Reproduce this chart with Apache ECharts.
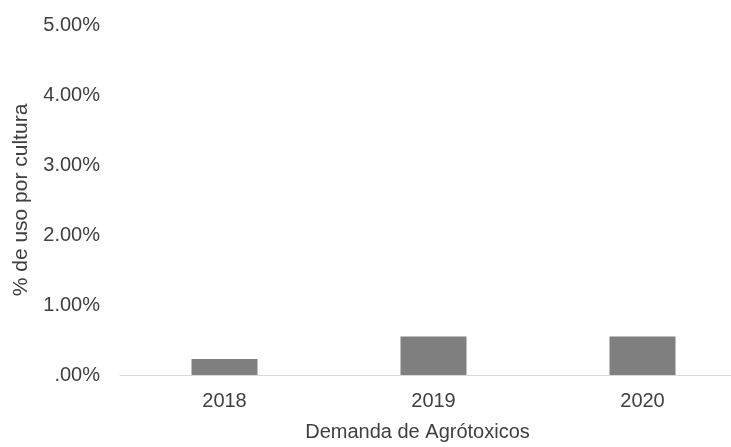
<!DOCTYPE html>
<html>
<head>
<meta charset="utf-8">
<script src="https://cdn.jsdelivr.net/npm/echarts@6/dist/echarts.min.js"></script>
<style>
  html, body { margin: 0; padding: 0; background: #fff; }
  #chart { width: 731px; height: 447px; }
</style>
</head>
<body>
<div id="chart"></div>
<script>
// values, in percent
const years = ['2018', '2019', '2020'];
const usoPorCultura = [0.23, 0.55, 0.55];

const chart = echarts.init(document.getElementById('chart'));
const txt = '#404040';
const font = 'Liberation Sans, Arial, sans-serif';

const option = {
  animation: false,
  grid: { left: 120, top: 25, bottom: 72, width: 627, outerBoundsMode: 'none', containLabel: false },
  xAxis: {
    type: 'category',
    data: years,
    name: 'Demanda de Agrótoxicos',
    nameLocation: 'middle',
    nameGap: 47,
    nameTextStyle: { color: txt, fontSize: 20, fontFamily: font, padding: [0, 32, 0, 0] },
    axisLine: { lineStyle: { color: '#d9d9d9', width: 1 } },
    axisTick: { show: false },
    axisLabel: { color: txt, fontSize: 20, fontFamily: font, margin: 16 }
  },
  yAxis: {
    type: 'value',
    min: 0,
    max: 5,
    interval: 1,
    name: '% de uso por cultura',
    nameLocation: 'middle',
    nameGap: 88,
    nameTextStyle: { color: txt, fontSize: 21, fontFamily: font },
    axisLine: { show: false },
    axisTick: { show: false },
    splitLine: { show: false },
    axisLabel: {
      color: txt, fontSize: 20, fontFamily: font, margin: 20,
      formatter: v => v === 0 ? '.00%' : v.toFixed(2) + '%'
    }
  },
  series: [{
    type: 'bar',
    data: usoPorCultura,
    barWidth: 66,
    itemStyle: { color: '#7f7f7f' }
  }]
};

chart.setOption(option);
</script>
</body>
</html>
